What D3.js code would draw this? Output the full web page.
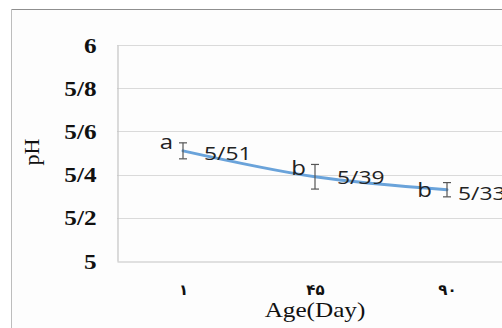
<!DOCTYPE html>
<html>
<head>
<meta charset="utf-8">
<script src="https://cdn.jsdelivr.net/npm/d3@7"></script>
<style>
  html, body { margin: 0; padding: 0; background: #ffffff; }
  svg { display: block; }
</style>
</head>
<body>
<script>
// pH by age: mean, error half-width and significance letter per sampling day
const categories = ["١", "۴۵", "۹۰"];
const phValues = [5.51, 5.39, 5.33];
const phErrors = [0.037, 0.057, 0.033];
const groupLetters = ["a", "b", "b"];
const yTickValues = [5, 5.2, 5.4, 5.6, 5.8, 6];
const yTickLabels = ["5", "5/2", "5/4", "5/6", "5/8", "6"];

// label placement relative to each point (px)
const valueLabelOffset = [[21, 9], [22, 7.5], [11, 10]];
const letterLabelOffset = [[-10, -2], [-9, -2], [-15, 7]];

const W = 502, H = 328;
const plot = { left: 117, top: 45, bottom: 261, right: 513 };
const stretch = 1.2; // text is drawn slightly widened

const svg = d3.select("body").append("svg")
  .attr("width", W).attr("height", H);

// frame
svg.append("rect").attr("x", 11).attr("y", 9).attr("width", W - 11).attr("height", H - 9)
  .attr("fill", "#fdfdfd");
svg.append("line").attr("x1", 11).attr("x2", W).attr("y1", 9.5).attr("y2", 9.5)
  .attr("stroke", "#8f8f8f").attr("stroke-width", 1);
svg.append("line").attr("x1", 11.5).attr("x2", 11.5).attr("y1", 9).attr("y2", H)
  .attr("stroke", "#bdbdbd").attr("stroke-width", 1);

const x = d3.scalePoint().domain(categories).range([plot.left, plot.right]).padding(0.5);
const y = d3.scaleLinear().domain([5, 6]).range([plot.bottom, plot.top]);

// horizontal gridlines
svg.append("g").selectAll("line").data(yTickValues.filter(v => v > 5)).join("line")
  .attr("x1", plot.left).attr("x2", plot.right)
  .attr("y1", d => Math.round(y(d)) + 0.5).attr("y2", d => Math.round(y(d)) + 0.5)
  .attr("stroke", "#dadada").attr("stroke-width", 1.2);

// y axis
const yAxis = svg.append("g").attr("transform", `translate(${plot.left + 0.5},0)`)
  .call(d3.axisLeft(y).tickValues(yTickValues).tickSize(0)
    .tickFormat((d, i) => yTickLabels[i]));
yAxis.select(".domain").attr("stroke", "#c4c4c4").attr("stroke-width", 1.2);
yAxis.selectAll(".tick text")
  .attr("x", -21 / stretch).attr("dy", "0.34em")
  .attr("transform", `scale(${stretch},1)`)
  .attr("font-family", "'Liberation Serif', 'Times New Roman', serif")
  .attr("font-weight", "bold").attr("font-size", 21).attr("fill", "#111");

// x axis
const xAxis = svg.append("g").attr("transform", `translate(0,${Math.round(plot.bottom) + 0.5})`)
  .call(d3.axisBottom(x).tickSize(0));
xAxis.select(".domain").attr("stroke", "#c4c4c4").attr("stroke-width", 1.2);
xAxis.selectAll(".tick text")
  .attr("y", 33).attr("dy", 0)
  .attr("font-family", "'DejaVu Sans', 'Liberation Serif', serif")
  .attr("font-weight", "bold").attr("font-size", 15).attr("fill", "#111");

// axis titles
svg.append("g").attr("transform", `translate(315,317) scale(${stretch},1)`)
  .append("text").attr("text-anchor", "middle")
  .attr("font-family", "'Liberation Serif', 'Times New Roman', serif")
  .attr("font-size", 21).attr("fill", "#111").text("Age(Day)");
svg.append("g").attr("transform", "translate(39,152) rotate(-90)")
  .append("text").attr("text-anchor", "middle")
  .attr("font-family", "'Liberation Serif', 'Times New Roman', serif")
  .attr("font-size", 22).attr("fill", "#111").text("pH");

// smoothed line
const pts = categories.map((c, i) => [x(c), y(phValues[i])]);
svg.append("path").datum(pts)
  .attr("d", d3.line().curve(d3.curveCatmullRom.alpha(0.5)))
  .attr("fill", "none").attr("stroke", "#6aa3da").attr("stroke-width", 3)
  .attr("stroke-linecap", "round");

// error bars
const eb = svg.append("g").attr("stroke", "#555").attr("stroke-width", 1.2);
categories.forEach((c, i) => {
  const cx = x(c), y0 = y(phValues[i] - phErrors[i]), y1 = y(phValues[i] + phErrors[i]);
  eb.append("line").attr("x1", cx).attr("x2", cx).attr("y1", y0).attr("y2", y1);
  eb.append("line").attr("x1", cx - 4).attr("x2", cx + 4).attr("y1", y0).attr("y2", y0);
  eb.append("line").attr("x1", cx - 4).attr("x2", cx + 4).attr("y1", y1).attr("y2", y1);
});

// value and letter labels
const labelFont = "'Open Sans', 'Noto Sans', sans-serif";
categories.forEach((c, i) => {
  const cx = x(c), cy = y(phValues[i]);
  svg.append("g")
    .attr("transform", `translate(${cx + valueLabelOffset[i][0]},${cy + valueLabelOffset[i][1]}) scale(${stretch},1)`)
    .append("text").attr("font-family", labelFont).attr("font-size", 19).attr("fill", "#222")
    .text(String(phValues[i]).replace(".", "/"));
  svg.append("g")
    .attr("transform", `translate(${cx + letterLabelOffset[i][0]},${cy + letterLabelOffset[i][1]}) scale(${stretch},1)`)
    .append("text").attr("text-anchor", "end").attr("font-family", labelFont)
    .attr("font-size", 20).attr("fill", "#222").text(groupLetters[i]);
});
</script>
</body>
</html>
